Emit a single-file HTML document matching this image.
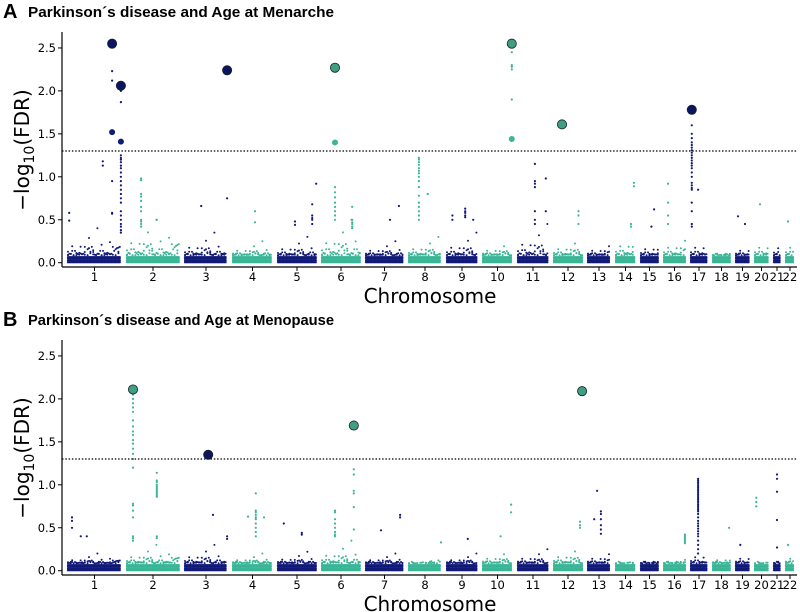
<!DOCTYPE html>
<html><head><meta charset="utf-8"><style>
html,body{margin:0;padding:0;background:#fff;}
svg{display:block;}
</style></head><body>
<svg id="chart" width="800" height="612" xmlns="http://www.w3.org/2000/svg" font-family="'DejaVu Sans','Liberation Sans',sans-serif"></svg>
<script>
// ---------- data ----------
const chromosomes = ["1","2","3","4","5","6","7","8","9","10","11","12","13","14","15","16","17","18","19","20","21","22"];
const chromLengths = [55,54,44,41,40,40,39,34,32,31,32,30,24,21,19,23,18,19,15,15,8,10];
const yTicks = [0.0,0.5,1.0,1.5,2.0,2.5];
const yTickLabels = ["0.0","0.5","1.0","1.5","2.0","2.5"];
const threshold = 1.3;
const titleA = "Parkinson\u00b4s disease and Age at Menarche";
const titleB = "Parkinson\u00b4s disease and Age at Menopause";
// background noise max per chromosome
const noiseA = [0.4,0.5,0.35,0.25,0.3,0.5,0.25,0.3,0.35,0.25,0.45,0.3,0.25,0.4,0.3,0.35,0.35,0.15,0.25,0.35,0.33,0.35];
const noiseB = [0.2,0.3,0.3,0.2,0.22,0.35,0.2,0.12,0.2,0.25,0.25,0.3,0.25,0.12,0.15,0.15,0.3,0.2,0.25,0.12,0.15,0.25];
// highlighted hits [chr index, fraction along chromosome, value, colour]
const bigA = [[1,0.82,2.55,'n'],[1,0.98,2.06,'n'],[3,0.98,2.24,'n'],[6,0.35,2.27,'t'],[10,0.96,2.55,'t'],[12,0.3,1.61,'t'],[17,0.1,1.78,'n']];
const medA = [[1,0.82,1.52],[1,0.98,1.41],[6,0.35,1.40],[10,0.96,1.44]];
const bigB = [[2,0.13,2.11,'t'],[3,0.55,1.35,'n'],[6,0.82,1.69,'t'],[12,0.97,2.09,'t']];
const medB = [];
// notable small points: [chr, fraction, values...]
const ptsA = [
 [1,0.82,2.23,2.12,0.95,0.58,0.57],[1,0.65,1.18,1.13],
 [1,0.98,2.0,1.87,1.25,1.22,1.2,1.17,1.13,1.1,1.05,1.0,0.95,0.9,0.85,0.8,0.75,0.7,0.6,0.55,0.5,0.45,0.42,0.38,0.35],[1,0.04,0.58,0.49],
 [2,0.28,0.98,0.96,0.8,0.77,0.72,0.65,0.6,0.5,0.48,0.45,0.42],[2,0.57,0.5],
 [3,0.39,0.66],[3,0.98,0.75],[4,0.56,0.6,0.47],
 [5,0.98,0.92],[5,0.88,0.68,0.55,0.52,0.5,0.45],[5,0.45,0.48,0.44],
 [6,0.35,0.88,0.82,0.76,0.7,0.65,0.6,0.55,0.5],[6,0.78,0.65,0.5,0.47,0.45,0.42,0.4],
 [7,0.87,0.66],[7,0.64,0.5],
 [8,0.32,1.22,1.2,1.17,1.14,1.1,1.07,1.04,1.0,0.95,0.88,0.78,0.7,0.65,0.6,0.55,0.5],[8,0.58,0.8],
 [9,0.6,0.63,0.6,0.58,0.55,0.53],[9,0.2,0.55,0.5],[9,0.85,0.5],
 [10,0.96,2.45,2.3,2.28,2.25,1.9],
 [11,0.56,1.15,0.95,0.92,0.88,0.6,0.5,0.45],[11,0.9,0.98,0.6],
 [12,0.85,0.6,0.55,0.45],[14,0.9,0.93,0.89],[14,0.76,0.45,0.42],
 [15,0.74,0.62],[15,0.6,0.42],[16,0.22,0.92,0.7,0.55,0.45],
 [17,0.1,1.6,1.5,1.45,1.4,1.37,1.34,1.31,1.28,1.25,1.22,1.19,1.16,1.13,1.1,1.05,1.0,0.93,0.9,0.87,0.85,0.7,0.6,0.45,0.42],[17,0.45,0.85],
 [19,0.2,0.54],[19,0.67,0.45],[20,0.4,0.68],[22,0.3,0.48]
];
const ptsB = [
 [1,0.09,0.62,0.58,0.5],[1,0.25,0.4],[1,0.36,0.4],
 [2,0.13,2.05,2.0,1.95,1.9,1.85,1.75,1.68,1.62,1.58,1.52,1.48,1.42,1.36,1.3,1.2,0.78,0.76,0.7,0.62,0.4,0.38,0.35],
 [2,0.57,1.14,1.05,1.03,1.0,0.98,0.96,0.94,0.92,0.9,0.88,0.86,0.4,0.38],
 [3,0.66,0.65],[3,0.98,0.4,0.37],
 [4,0.58,0.9,0.7,0.68,0.65,0.62,0.6,0.55,0.5,0.45,0.4],[4,0.39,0.63],[4,0.78,0.62],
 [5,0.17,0.55],[5,0.62,0.44,0.42],
 [6,0.82,1.18,1.12,0.93,0.9,0.74,0.48],[6,0.35,0.7,0.68,0.6,0.55,0.5,0.45,0.42,0.4],
 [7,0.41,0.47],[7,0.9,0.65,0.62],[8,0.97,0.33],[9,0.68,0.37],
 [10,0.94,0.77,0.68],[10,0.6,0.4],[12,0.9,0.57,0.53,0.5],
 [13,0.42,0.93],[13,0.58,0.69,0.66,0.6,0.53,0.48,0.43],[13,0.3,0.6],
 [16,0.95,0.42,0.4,0.38,0.36,0.34,0.32],
 [17,0.45,1.07,1.05,1.03,1.01,0.99,0.97,0.95,0.93,0.91,0.89,0.87,0.85,0.83,0.81,0.79,0.77,0.75,0.73,0.71,0.69,0.66,0.62,0.58,0.55,0.52,0.49,0.46,0.43,0.4,0.35,0.3,0.25,0.2],
 [18,0.9,0.5],[19,0.35,0.3],[20,0.15,0.85,0.8,0.75],[21,0.5,1.12,1.07,0.92,0.59,0.27],[22,0.3,0.3]
];

// ---------- drawing ----------
const NS = "http://www.w3.org/2000/svg";
const svg = document.getElementById('chart');
const NAVY = "#121a78", TEAL = "#3ab596";
const X0 = 67, GAP = 4, AXL = 62, AXR = 797;
const chromStart = [];
(function(){ let x = X0; chromLengths.forEach(w => { chromStart.push(x); x += w + GAP; }); })();
function xPos(ci, f){ return chromStart[ci-1] + f * chromLengths[ci-1]; }
function mk(tag, attrs, parent){ const e = document.createElementNS(NS, tag); for (const k in attrs) e.setAttribute(k, attrs[k]); (parent||svg).appendChild(e); return e; }
const jit = [0.1,0.35,0.15,0.6,0.22,0.9,0.28,0.45,0.12,0.75,0.3,0.18,0.5,0.08,0.4,1.0,0.2,0.65,0.14,0.33];

function panel(off, letter, title, noise, pts, big, med, key){
  const y0 = 262.7 + off, unit = 85.9;
  const yPos = v => y0 - v * unit;
  const g = mk('g', {});
  
  
  const L = mk('text', {x:3, y:18+off, 'font-family':"'Liberation Sans',sans-serif", 'font-weight':'bold', 'font-size':'20'}, g);
  L.textContent = letter;
  
  
  const T = mk('text', {x:28, y:17+off, 'font-family':"'Liberation Sans',sans-serif", 'font-weight':'bold', 'font-size':'15', textLength:'306', lengthAdjust:'spacingAndGlyphs'}, g);
  T.textContent = title;
  
  
  // dots
  const dots = mk('g', {}, g);
  
  
  chromLengths.forEach((w, i) => {
    const col = i % 2 === 0 ? NAVY : TEAL;
    const s = chromStart[i];
    let k = 0;
    for (let x = s + 1; x <= s + w - 1; x += 1.4) {
      for (let v = 0.005; v <= 0.075; v += 0.02) {
        mk('circle', {cx:x.toFixed(1), cy:yPos(v).toFixed(1), r:1.1, fill:col}, dots);
      }
      const hs = [];
      if (k % 2 === 0) hs.push(0.08 + 0.06 * jit[(k*7) % jit.length]);
      hs.push(0.08 + (noise[i] - 0.08) * jit[k % jit.length] * jit[(k*3+1) % jit.length]);
      if (k % 3 === 0) hs.push(0.08 + (noise[i] - 0.08) * jit[(k*13+2) % jit.length]);
      hs.forEach(h => { if (h > 0.085) mk('circle', {cx:x.toFixed(1), cy:yPos(h).toFixed(1), r:1.0, fill:col}, dots); });
      k++;
    }
  });
  pts.forEach(p => {
    const ci = p[0], col = ci % 2 === 1 ? NAVY : TEAL;
    for (let j = 2; j < p.length; j++) {
      mk('circle', {cx:xPos(ci,p[1]).toFixed(1), cy:yPos(p[j]).toFixed(1), r:1.1, fill:col}, dots);
    }
  });
  // threshold
  const th = mk('line', {x1:AXL, x2:AXR, y1:yPos(threshold), y2:yPos(threshold), stroke:'#000', 'stroke-width':1.3, 'stroke-dasharray':'1.5,1.8'}, g);
  
  
  med.forEach(p => {
    const c = mk('circle', {cx:xPos(p[0],p[1]), cy:yPos(p[2]), r:3, fill:p[0]%2===1?NAVY:TEAL}, g);
    
    
  });
  big.forEach(p => {
    const fill = p[3] === 'n' ? '#0d1462' : '#3f9e84';
    const c = mk('circle', {cx:xPos(p[0],p[1]), cy:yPos(p[2]), r:4.6, fill:fill, stroke:'#13241f', 'stroke-width':0.8}, g);
    
    
  });
  // axes
  const ax = mk('g', {}, g);
  
  
  mk('line', {x1:AXL, x2:AXL, y1:32+off, y2:267+off, stroke:'#000', 'stroke-width':1.2}, ax);
  mk('line', {x1:AXL, x2:AXR, y1:267+off, y2:267+off, stroke:'#000', 'stroke-width':1.2}, ax);
  yTicks.forEach((v, i) => {
    mk('line', {x1:AXL-4, x2:AXL, y1:yPos(v), y2:yPos(v), stroke:'#000', 'stroke-width':1}, ax);
    const t = mk('text', {x:AXL-6, y:yPos(v)+4, 'text-anchor':'end', 'font-size':'11.5'}, ax);
    t.textContent = yTickLabels[i];
    
    
  });
  chromosomes.forEach((c, i) => {
    const cx = chromStart[i] + chromLengths[i] / 2;
    mk('line', {x1:cx, x2:cx, y1:267+off, y2:271+off, stroke:'#000', 'stroke-width':1}, ax);
    const t = mk('text', {x:cx, y:281+off, 'text-anchor':'middle', 'font-size':'11.5'}, ax);
    t.textContent = c;
    
    
  });
  const xl = mk('text', {x:430, y:303+off, 'text-anchor':'middle', 'font-size':'20'}, ax);
  xl.textContent = 'Chromosome';
  
  
  const yl = mk('text', {x:0, y:0, 'text-anchor':'middle', 'font-size':'20', transform:`translate(29,${150+off}) rotate(-90)`}, ax);
  yl.innerHTML = '\u2212log<tspan font-size="14" dy="5">10</tspan><tspan dy="-5">(FDR)</tspan>';
  
  
}
panel(0, 'A', titleA, noiseA, ptsA, bigA, medA, 'menarche');
panel(308, 'B', titleB, noiseB, ptsB, bigB, medB, 'menopause');
</script>
</body></html>
